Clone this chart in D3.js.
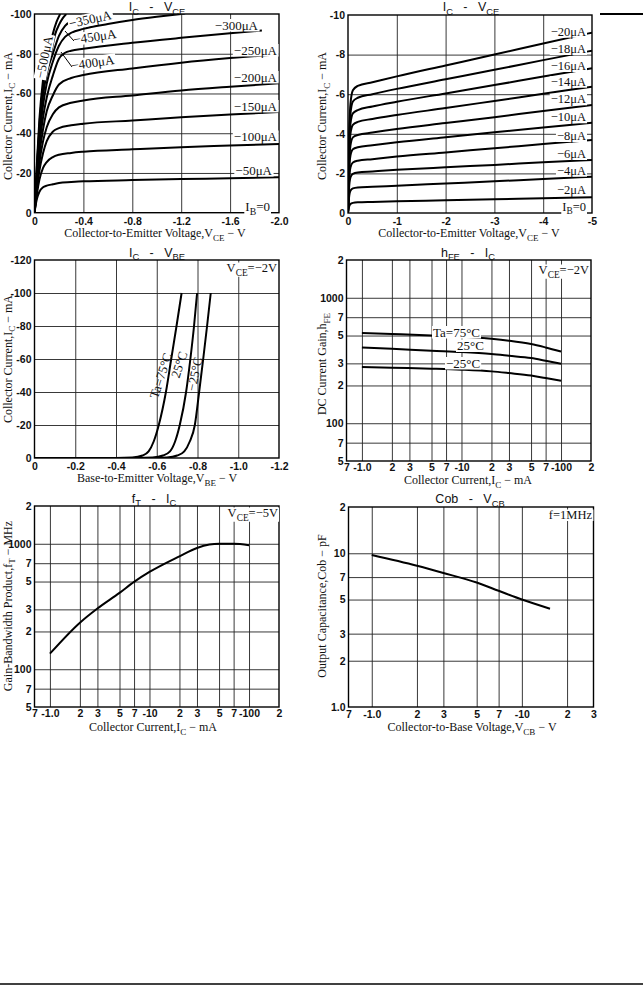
<!DOCTYPE html>
<html><head><meta charset="utf-8">
<script src="https://cdn.jsdelivr.net/npm/d3@7"></script>
<style>body{margin:0;background:#fff}svg{display:block}text{white-space:pre}</style>
</head><body><svg id="c" width="643" height="991"></svg>
<script>
// ---------------- DATA ----------------
// Panel 1: IC - VCE (high current)
const p1VceTicks = [0, -0.4, -0.8, -1.2, -1.6, -2.0];
const p1IcTicks = [0, -20, -40, -60, -80, -100];
const p1Ib50  = [[0,0],[-0.01,-4],[-0.02,-7],[-0.04,-10.5],[-0.07,-12.8],[-0.1,-13.6],[-0.15,-14.3],[-0.2,-14.9],[-0.3,-15.4],[-0.4,-15.8],[-0.8,-16.4],[-1.2,-16.9],[-1.6,-17.3],[-2.0,-17.8]];
const p1Ib100 = [[0,0],[-0.01,-5],[-0.02,-9.5],[-0.04,-16.5],[-0.07,-22.5],[-0.1,-25.5],[-0.15,-28],[-0.2,-29.2],[-0.3,-30.1],[-0.4,-30.7],[-0.8,-31.9],[-1.2,-33],[-1.6,-33.8],[-2.0,-34.6]];
const p1Ib150 = [[0,0],[-0.01,-6],[-0.02,-11.5],[-0.04,-21],[-0.07,-30],[-0.1,-36],[-0.15,-40.8],[-0.2,-42.6],[-0.3,-44],[-0.4,-44.8],[-0.8,-46.4],[-1.2,-48],[-1.6,-49.4],[-2.0,-50.7]];
const p1Ib200 = [[0,0],[-0.01,-7],[-0.02,-13.5],[-0.04,-25],[-0.07,-36],[-0.1,-43],[-0.15,-49.5],[-0.2,-53],[-0.3,-55.3],[-0.4,-56.5],[-0.8,-59],[-1.2,-61.5],[-1.6,-63.4],[-2.0,-65.1]];
const p1Ib250 = [[0,0],[-0.01,-8],[-0.02,-15.5],[-0.04,-29],[-0.07,-42],[-0.1,-51],[-0.15,-59],[-0.2,-64.5],[-0.3,-67.8],[-0.4,-69.3],[-0.8,-72.6],[-1.2,-75.5],[-1.6,-77.8],[-2.0,-79.7]];
const p1Ib300 = [[0,0],[-0.01,-9],[-0.02,-17.5],[-0.04,-33],[-0.07,-48],[-0.1,-58],[-0.15,-69],[-0.2,-77.5],[-0.25,-80.5],[-0.3,-81.5],[-0.4,-82.5],[-0.8,-85.5],[-1.2,-88],[-1.6,-90.3],[-1.86,-91.7]];
const p1Ib350 = [[0,0],[-0.01,-10],[-0.02,-19.5],[-0.04,-37],[-0.07,-54],[-0.1,-65],[-0.15,-76],[-0.2,-84],[-0.25,-88.5],[-0.3,-90.5],[-0.4,-92.5],[-0.6,-95],[-0.8,-97],[-1.0,-98.6],[-1.2,-100]];
const p1Ib400 = [[0,0],[-0.01,-11],[-0.02,-21.5],[-0.04,-41],[-0.07,-59],[-0.1,-70],[-0.15,-80],[-0.2,-89],[-0.25,-94],[-0.3,-96.5],[-0.35,-98],[-0.44,-100]];
const p1Ib450 = [[0,0],[-0.01,-12],[-0.02,-23.5],[-0.04,-44],[-0.07,-63],[-0.1,-75],[-0.133,-80],[-0.17,-90],[-0.2,-94.5],[-0.23,-97.8],[-0.26,-100]];
const p1Ib500 = [[0,0],[-0.01,-13],[-0.02,-25.5],[-0.04,-47],[-0.07,-67],[-0.1,-78],[-0.113,-80],[-0.15,-90],[-0.18,-96],[-0.21,-100]];
const p1Curves = [p1Ib50, p1Ib100, p1Ib150, p1Ib200, p1Ib250, p1Ib300, p1Ib350, p1Ib400, p1Ib450, p1Ib500];

// Panel 2: IC - VCE (low current)
const p2VceTicks = [0, -1, -2, -3, -4, -5];
const p2IcTicks = [0, -2, -4, -6, -8, -10];
const p2Ib2  = [[0,0],[-0.02,-0.3],[-0.05,-0.45],[-0.1,-0.51],[-0.2,-0.54],[-0.5,-0.56],[-1,-0.59],[-2,-0.64],[-3,-0.69],[-4,-0.74],[-5,-0.79]];
const p2Ib4  = [[0,0],[-0.02,-0.75],[-0.05,-1.12],[-0.1,-1.24],[-0.2,-1.29],[-0.5,-1.32],[-1,-1.38],[-2,-1.49],[-3,-1.6],[-4,-1.72],[-5,-1.83]];
const p2Ib6  = [[0,0],[-0.02,-1.2],[-0.05,-1.8],[-0.1,-1.98],[-0.2,-2.05],[-0.5,-2.1],[-1,-2.18],[-2,-2.31],[-3,-2.43],[-4,-2.56],[-5,-2.68]];
const p2Ib8  = [[0,0],[-0.02,-1.5],[-0.05,-2.3],[-0.1,-2.55],[-0.2,-2.64],[-0.5,-2.72],[-1,-2.85],[-2,-3.06],[-3,-3.27],[-4,-3.48],[-5,-3.69]];
const p2Ib10 = [[0,0],[-0.02,-1.9],[-0.05,-2.9],[-0.1,-3.22],[-0.2,-3.32],[-0.5,-3.42],[-1,-3.57],[-2,-3.83],[-3,-4.08],[-4,-4.32],[-5,-4.56]];
const p2Ib12 = [[0,0],[-0.02,-2.2],[-0.05,-3.4],[-0.1,-3.82],[-0.2,-3.94],[-0.5,-4.06],[-1,-4.24],[-2,-4.54],[-3,-4.84],[-4,-5.15],[-5,-5.45]];
const p2Ib14 = [[0,0],[-0.02,-2.6],[-0.05,-4.0],[-0.1,-4.45],[-0.2,-4.6],[-0.5,-4.75],[-1,-4.95],[-2,-5.3],[-3,-5.66],[-4,-6.02],[-5,-6.38]];
const p2Ib16 = [[0,0],[-0.02,-2.9],[-0.05,-4.5],[-0.1,-5.03],[-0.2,-5.2],[-0.5,-5.38],[-1,-5.62],[-2,-6.04],[-3,-6.46],[-4,-6.89],[-5,-7.31]];
const p2Ib18 = [[0,0],[-0.02,-3.2],[-0.05,-5.0],[-0.1,-5.63],[-0.2,-5.82],[-0.5,-6.0],[-1,-6.27],[-2,-6.75],[-3,-7.23],[-4,-7.72],[-5,-8.2]];
const p2Ib20 = [[0,0],[-0.02,-3.5],[-0.05,-5.5],[-0.1,-6.2],[-0.2,-6.42],[-0.5,-6.6],[-1,-6.9],[-2,-7.45],[-3,-8.0],[-4,-8.56],[-5,-9.11]];
const p2Curves = [p2Ib2, p2Ib4, p2Ib6, p2Ib8, p2Ib10, p2Ib12, p2Ib14, p2Ib16, p2Ib18, p2Ib20];
const p2Labels = ["−20μA","−18μA","−16μA","−14μA","−12μA","−10μA","−8μA","−6μA","−4μA","−2μA","I_{B}=0"];

// Panel 3: IC - VBE
const p3VbeTicks = [0, -0.2, -0.4, -0.6, -0.8, -1.0, -1.2];
const p3IcTicks = [0, -20, -40, -60, -80, -100, -120];
const p3Ta75  = [[0,0],[-0.4,0],[-0.48,-0.3],[-0.53,-1.5],[-0.56,-4],[-0.585,-10],[-0.61,-20],[-0.645,-40],[-0.671,-60],[-0.697,-80],[-0.722,-100]];
const p3Ta25  = [[0,0],[-0.5,0],[-0.58,-0.3],[-0.63,-1.5],[-0.665,-4],[-0.69,-10],[-0.713,-20],[-0.744,-40],[-0.765,-60],[-0.783,-80],[-0.798,-100]];
const p3TaM25 = [[0,0],[-0.58,0],[-0.65,-0.3],[-0.7,-1.5],[-0.735,-4],[-0.762,-10],[-0.787,-20],[-0.808,-40],[-0.828,-60],[-0.847,-80],[-0.865,-100]];

// Panel 4: hFE - IC (log-log)
const logXTicks = [0.7, 1, 2, 3, 5, 7, 10, 20, 30, 50, 70, 100, 200];
const logXLabels = ["7","-1.0","2","3","5","7","-10","2","3","5","7","-100","2"];
const logYTicks = [50, 70, 100, 200, 300, 500, 700, 1000, 2000];
const logYLabels = ["5","7","100","2","3","5","7","1000","2"];
const p4Ic = [1, 2, 5, 10, 20, 30, 50, 70, 100];
const p4Ta75  = [523, 514, 501, 489, 471, 455, 428, 402, 373];
const p4Ta25  = [402, 392, 378, 369, 356, 345, 331, 315, 298];
const p4TaM25 = [281, 277, 272, 267, 259, 251, 240, 229, 218];

// Panel 5: fT - IC
const p5Ic = [1, 2, 3, 5, 7, 10, 20, 30, 40, 50, 70, 100];
const p5Ft = [133, 235, 305, 406, 497, 596, 794, 925, 985, 1000, 1000, 975];

// Panel 6: Cob - VCB
const p6XTicks = [0.7, 1, 2, 3, 5, 7, 10, 20, 30];
const p6XLabels = ["7","-1.0","2","3","5","7","-10","2","3"];
const p6YTicks = [1, 2, 3, 5, 7, 10, 20];
const p6YLabels = ["1.0","2","3","5","7","10","2"];
const p6Vcb = [1, 2, 3, 5, 7, 10, 15.4];
const p6Cob = [9.75, 8.3, 7.45, 6.45, 5.7, 5.0, 4.36];

// ---------------- DRAWING ----------------
const svg = d3.select('#c');
const SERIF = '"Liberation Serif","Times New Roman",serif';
const SANS = '"Liberation Sans",Arial,sans-serif';
const TICKF = '"Liberation Sans Narrow","Liberation Sans",Arial,sans-serif';

function rich(text, str, fs) {
  const parts = str.split(/(_\{[^}]*\})/).filter(p => p.length);
  let shift = 0;
  parts.forEach(p => {
    if (p.startsWith('_{')) {
      text.append('tspan').attr('dy', fs * 0.3).style('font-size', (fs * 0.75) + 'px').text(p.slice(2, -1));
      shift = -fs * 0.3;
    } else {
      const t = text.append('tspan').text(p);
      if (shift) { t.attr('dy', shift); shift = 0; }
    }
  });
  return text;
}
function label(x, y, str, o = {}) {
  const fs = o.fs || 12;
  const g = svg.append('g').attr('transform', `translate(${x},${y}) rotate(${o.rotate || 0})`);
  const t = g.append('text').attr('text-anchor', o.anchor || 'start')
    .style('font-family', o.font || SERIF).style('font-size', fs + 'px').attr('fill', '#111');
  rich(t, str, fs);
  if (o.bg) {
    const b = t.node().getBBox();
    g.insert('rect', 'text').attr('x', b.x - 1).attr('y', b.y + 1.5).attr('width', b.width + 2).attr('height', b.height - 2.5).attr('fill', '#fff');
  }
  return g;
}

let clipId = 0;
function panel(c) {
  const g = svg.append('g');
  const x = c.x, y = c.y;
  const [X0, X1] = x.range(), [Y1, Y0] = y.range();
  const w = X1 - X0, h = Y1 - Y0;
  g.append('g').attr('transform', `translate(0,${Y1})`)
    .call(d3.axisBottom(x).tickValues(c.xGrid).tickSize(-h).tickFormat(''))
    .call(s => { s.select('.domain').remove(); s.selectAll('line').attr('stroke', '#222').attr('stroke-width', 0.9); });
  g.append('g').attr('transform', `translate(${X0},0)`)
    .call(d3.axisLeft(y).tickValues(c.yGrid).tickSize(-w).tickFormat(''))
    .call(s => { s.select('.domain').remove(); s.selectAll('line').attr('stroke', '#222').attr('stroke-width', 0.9); });
  g.append('rect').attr('x', X0).attr('y', Y0).attr('width', w).attr('height', h)
    .attr('fill', 'none').attr('stroke', '#000').attr('stroke-width', 1.4);
  g.append('g').attr('transform', `translate(0,${Y1})`)
    .call(d3.axisBottom(x).tickValues(c.xTicks).tickSize(0).tickPadding(c.xPad).tickFormat((d, i) => c.xLabels[i]))
    .call(s => { s.select('.domain').remove(); s.selectAll('text').style('font-family', TICKF).style('font-size', '10.5px').style('font-weight', 'bold').attr('fill', '#111'); });
  g.append('g').attr('transform', `translate(${X0},0)`)
    .call(d3.axisLeft(y).tickValues(c.yTicks).tickSize(0).tickPadding(3).tickFormat((d, i) => c.yLabels[i]))
    .call(s => { s.select('.domain').remove(); s.selectAll('text').style('font-family', TICKF).style('font-size', '10.5px').style('font-weight', 'bold').attr('fill', '#111'); });
  const id = 'clip' + (clipId++);
  g.append('clipPath').attr('id', id).append('rect').attr('x', X0).attr('y', Y0).attr('width', w).attr('height', h);
  const line = d3.line().x(d => x(d[0])).y(d => y(d[1])).curve(d3.curveMonotoneX);
  g.append('g').attr('clip-path', `url(#${id})`).selectAll('path').data(c.curves).join('path')
    .attr('d', line).attr('fill', 'none').attr('stroke', '#000').attr('stroke-width', 2).attr('stroke-linejoin', 'round');
  return g;
}
const fmt = d => d === 0 ? '0' : String(d);
const fmt1 = d => d === 0 ? '0' : d.toFixed(1);

panel({
  x: d3.scaleLinear().domain([0, -2]).range([34.5, 279]),
  y: d3.scaleLinear().domain([0, -100]).range([212.7, 14]),
  xGrid: p1VceTicks.slice(1, -1), yGrid: p1IcTicks.slice(1, -1),
  xTicks: p1VceTicks, xLabels: p1VceTicks.map(fmt1), xPad: 5,
  yTicks: p1IcTicks, yLabels: p1IcTicks.map(fmt),
  curves: p1Curves
});
panel({
  x: d3.scaleLinear().domain([0, -5]).range([348, 592]),
  y: d3.scaleLinear().domain([0, -10]).range([213, 15]),
  xGrid: p2VceTicks.slice(1, -1), yGrid: p2IcTicks.slice(1, -1),
  xTicks: p2VceTicks, xLabels: p2VceTicks.map(fmt), xPad: 5,
  yTicks: p2IcTicks, yLabels: p2IcTicks.map(fmt),
  curves: p2Curves
});
panel({
  x: d3.scaleLinear().domain([0, -1.2]).range([34.5, 279]),
  y: d3.scaleLinear().domain([0, -120]).range([458, 260]),
  xGrid: p3VbeTicks.slice(1, -1), yGrid: p3IcTicks.slice(1, -1),
  xTicks: p3VbeTicks, xLabels: p3VbeTicks.map(fmt1), xPad: 5,
  yTicks: p3IcTicks, yLabels: p3IcTicks.map(fmt),
  curves: [p3Ta75, p3Ta25, p3TaM25]
});
panel({
  x: d3.scaleLog().domain([0.7, 200]).range([346.5, 591]),
  y: d3.scaleLog().domain([50, 2000]).range([461, 260]),
  xGrid: logXTicks.slice(1, -1), yGrid: logYTicks.slice(1, -1),
  xTicks: logXTicks, xLabels: logXLabels, xPad: 3,
  yTicks: logYTicks, yLabels: logYLabels,
  curves: [p4Ta75, p4Ta25, p4TaM25].map(s => s.map((v, i) => [p4Ic[i], v]))
});
panel({
  x: d3.scaleLog().domain([0.7, 200]).range([34.5, 279]),
  y: d3.scaleLog().domain([50, 2000]).range([707, 506]),
  xGrid: logXTicks.slice(1, -1), yGrid: logYTicks.slice(1, -1),
  xTicks: logXTicks, xLabels: logXLabels, xPad: 2.5,
  yTicks: logYTicks, yLabels: logYLabels,
  curves: [p5Ft.map((v, i) => [p5Ic[i], v])]
});
panel({
  x: d3.scaleLog().domain([0.7, 30]).range([348.5, 593.5]),
  y: d3.scaleLog().domain([1, 20]).range([707, 507]),
  xGrid: p6XTicks.slice(1, -1), yGrid: p6YTicks.slice(1, -1),
  xTicks: p6XTicks, xLabels: p6XLabels, xPad: 3.5,
  yTicks: p6YTicks, yLabels: p6YLabels,
  curves: [p6Cob.map((v, i) => [p6Vcb[i], v])]
});

// Titles
const TF = { font: SANS, fs: 12.5, anchor: 'middle' };
label(157, 11, 'I_{C}   -   V_{CE}', TF);
label(471, 11, 'I_{C}   -   V_{CE}', TF);
label(157, 256.5, 'I_{C}   -   V_{BE}', TF);
label(468, 256.5, 'h_{FE}   -   I_{C}', TF);
label(154, 502.5, 'f_{T}   -   I_{C}', TF);
label(470, 503, 'Cob   -   V_{CB}', TF);

// Axis labels
const AL = { anchor: 'middle', fs: 12 };
label(155, 237, 'Collector-to-Emitter Voltage,V_{CE} − V', AL);
label(469, 237, 'Collector-to-Emitter Voltage,V_{CE} − V', AL);
label(157, 482, 'Base-to-Emitter Voltage,V_{BE} − V', AL);
label(468, 484, 'Collector Current,I_{C} − mA', AL);
label(153, 731, 'Collector Current,I_{C} − mA', AL);
label(472, 731, 'Collector-to-Base Voltage,V_{CB} − V', AL);
const YL = { anchor: 'middle', fs: 12, rotate: -90 };
label(11.5, 116, 'Collector Current,I_{C} − mA', YL);
label(326, 116, 'Collector Current,I_{C} − mA', YL);
label(11.5, 359, 'Collector Current,I_{C} − mA', YL);
label(326, 364, 'DC Current Gain,h_{FE}', YL);
label(11.5, 606, 'Gain-Bandwidth Product,f_{T} − MHz', YL);
label(326, 606, 'Output Capacitance,Cob − pF', YL);

// Panel 1 curve labels
const CL = { fs: 13, bg: true, anchor: 'end' };
label(258, 29.5, '−300μA', CL);
label(277, 54.5, '−250μA', CL);
label(277, 81.5, '−200μA', CL);
label(277, 110.5, '−150μA', CL);
label(277, 141, '−100μA', CL);
label(272, 174.5, '−50μA', CL);
label(270, 211, 'I_{B}=0', CL);
label(70, 28, '−350μA', { fs: 13, rotate: -12, bg: true });
label(74, 44, '−450μA', { fs: 13, rotate: -8, bg: true });
label(72, 70, '−400μA', { fs: 13, rotate: -8, bg: true });
label(48.5, 58, '−500μA', { fs: 13, rotate: -78, anchor: 'middle', bg: true });
svg.append('line').attr('x1', 74).attr('y1', 41).attr('x2', 65).attr('y2', 31).attr('stroke', '#000').attr('stroke-width', 1);
svg.append('line').attr('x1', 72).attr('y1', 67).attr('x2', 61).attr('y2', 52).attr('stroke', '#000').attr('stroke-width', 1);

// Panel 2 curve labels
const p2Base = [35.7, 53, 70, 85.7, 103.3, 121.3, 140, 158, 174.7, 194, 210.7];
p2Labels.forEach((t, i) => label(586, p2Base[i], t, { fs: 12.5, bg: true, anchor: 'end' }));

// Panel 3 labels
label(277, 272, 'V_{CE}=−2V', { fs: 12.5, anchor: 'end', bg: true });
label(165, 377, 'Ta=75°C', { fs: 13, rotate: -72, anchor: 'middle' });
label(183.5, 366, '25°C', { fs: 13, rotate: -72, anchor: 'middle' });
label(199, 375, '−25°C', { fs: 13, rotate: -78, anchor: 'middle' });

// Panel 4 labels
label(589, 274, 'V_{CE}=−2V', { fs: 12.5, anchor: 'end', bg: true });
label(433, 336.5, 'Ta=75°C', { fs: 13, bg: true });
label(457, 350, '25°C', { fs: 13, bg: true });
label(446, 367.5, '−25°C', { fs: 13, bg: true });

// Panel 5, 6 labels
label(278, 517, 'V_{CE}=−5V', { fs: 12.5, anchor: 'end', bg: true });
label(592, 519, 'f=1MHz', { fs: 12.5, anchor: 'end', bg: true });

// page decorations
svg.append('line').attr('x1', 600).attr('x2', 643).attr('y1', 14).attr('y2', 14).attr('stroke', '#000').attr('stroke-width', 2);
svg.append('line').attr('x1', 0).attr('x2', 643).attr('y1', 984).attr('y2', 984).attr('stroke', '#000').attr('stroke-width', 1.5);
</script>
</body></html>
